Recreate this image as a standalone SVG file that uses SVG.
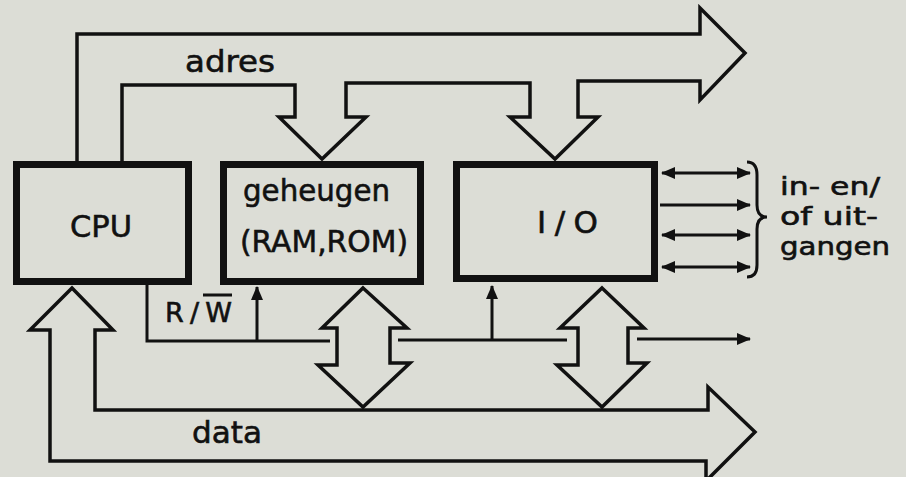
<svg xmlns="http://www.w3.org/2000/svg" width="906" height="477" viewBox="0 0 906 477">
<defs>
<style>
.box{fill:none;stroke:#111;stroke-width:7}
.ln{fill:none;stroke:#111;stroke-width:3;stroke-linejoin:miter}
.bus{fill:none;stroke:#111;stroke-width:3.5;stroke-linejoin:miter}
.t{font-family:"DejaVu Sans",sans-serif;font-size:31px;fill:#111;stroke:#111;stroke-width:0.6}
.s{font-size:25px}
</style>
<marker id="ah" viewBox="0 0 14 12" refX="13" refY="6" markerWidth="14" markerHeight="12" markerUnits="userSpaceOnUse" orient="auto-start-reverse">
<path d="M0,0 L14,6 L0,12 Z" fill="#111"/>
</marker>
</defs>
<rect width="906" height="477" fill="#dcddd6"/>
<g id="connectors">
<path class="bus" d="M77,161 V34 H700 V8 L745,53 L700,100 V81 H578 V117 H598 L555,159 L510,117 H530 V83 H346 V117 H366 L322,159 L279,117 H295 V85 H122 V161"/>
<path class="bus" d="M706,481 V461 H50 V330 H30 L72,288 L113,330 H95 V410 H708 V387 L755,432 L706,481"/>
<path class="bus" d="M363,288 L407,328 H390 V363 H410 L363,407 L318,365 H337 V328 H322 Z"/>
<path class="bus" d="M602,288 L644,328 H628 V363 H647 L602,407 L557,365 H578 V328 H560 Z"/>
<path class="ln" d="M147,284 V341 H330"/>
<path class="ln" d="M257,341 V287" marker-end="url(#ah)"/>
<path class="ln" d="M398,340 H567"/>
<path class="ln" d="M492,340 V286" marker-end="url(#ah)"/>
<path class="ln" d="M637,339 H750" marker-end="url(#ah)"/>
<path class="ln" d="M662,173 H750" marker-start="url(#ah)" marker-end="url(#ah)"/>
<path class="ln" d="M660,205 H750" marker-end="url(#ah)"/>
<path class="ln" d="M662,235 H750" marker-start="url(#ah)" marker-end="url(#ah)"/>
<path class="ln" d="M662,267 H750" marker-start="url(#ah)" marker-end="url(#ah)"/>
<path class="ln" d="M747,162 Q757,162 757,175 V205 Q757,217 767,217 Q757,217 757,229 V265 Q757,277 747,277"/>
</g>
<g id="cpu">
<rect class="box" x="16.5" y="164.5" width="172" height="117"/>
<text class="t" x="70" y="237" textLength="62" lengthAdjust="spacingAndGlyphs">CPU</text>
</g>
<g id="memory">
<rect class="box" x="223.5" y="164.5" width="197" height="117"/>
<text class="t" x="243" y="201" textLength="147" lengthAdjust="spacingAndGlyphs">geheugen</text>
<text class="t" x="240" y="252" textLength="168" lengthAdjust="spacingAndGlyphs">(RAM,ROM)</text>
</g>
<g id="io">
<rect class="box" x="456.5" y="164.5" width="198" height="114"/>
<text class="t" x="537" y="233" textLength="61">I / O</text>
</g>
<g id="labels">
<text class="t" x="185" y="72" textLength="90" lengthAdjust="spacingAndGlyphs">adres</text>
<text class="t" x="192" y="443" textLength="70" lengthAdjust="spacingAndGlyphs">data</text>
<text class="t" x="165" y="322" style="font-size:27px" textLength="67">R/W</text>
<line x1="203" y1="295" x2="232" y2="295" stroke="#111" stroke-width="3"/>
<text class="t s" x="780" y="195" textLength="100" lengthAdjust="spacingAndGlyphs">in- en/</text>
<text class="t s" x="780" y="225" textLength="98" lengthAdjust="spacingAndGlyphs">of uit-</text>
<text class="t s" x="780" y="255" textLength="110" lengthAdjust="spacingAndGlyphs">gangen</text>
</g>
</svg>
